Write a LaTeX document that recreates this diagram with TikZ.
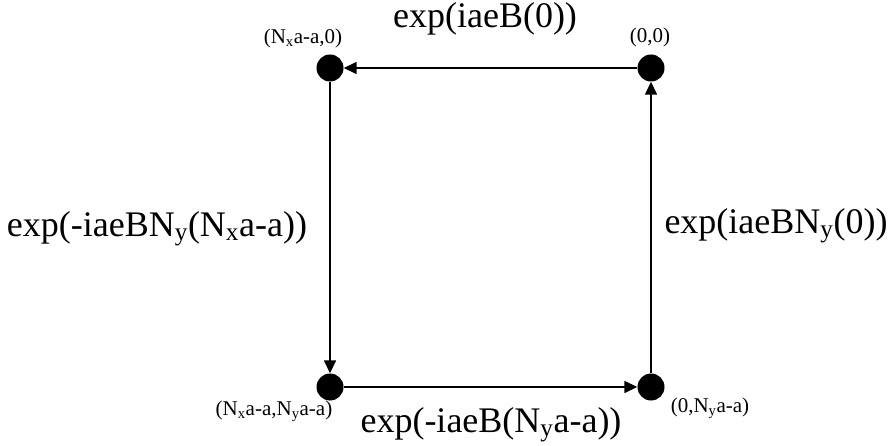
\documentclass[tikz,border=0pt]{standalone}
\usepackage{fontspec}
\setmainfont{Liberation Serif}
\usetikzlibrary{arrows.meta}
\tikzset{
  dot/.style={circle,fill=black,inner sep=0pt,minimum size=27pt},
  big/.style={font=\fontsize{36}{40}\selectfont,inner sep=0pt},
  small/.style={font=\fontsize{21}{24}\selectfont,inner sep=0pt},
  arr/.style={line width=1.5pt,-{Triangle[length=13pt,width=12pt]}}
}
\begin{document}
\begin{tikzpicture}[x=1pt,y=-1pt]
\useasboundingbox (0,0) rectangle (894,446);
\node[dot] (tl) at (330,68) {};
\node[dot] (tr) at (651,68) {};
\node[dot] (bl) at (330,387) {};
\node[dot] (br) at (651,387) {};
\draw[arr] (tr) -- (tl);
\draw[arr] (tl) -- (bl);
\draw[arr] (bl) -- (br);
\draw[arr] (br) -- (tr);
\node[big] (lt) at (485,19) {exp(iaeB(0))};
\node[big] (ll) at (157,229) {exp(-iaeBN\textsubscript{y}(N\textsubscript{x}a-a))};
\node[big] (lr) at (776,226) {exp(iaeBN\textsubscript{y}(0))};
\node[big] (lb) at (491,425) {exp(-iaeB(N\textsubscript{y}a-a))};
\node[small] (ntr) at (650,37) {(0,0)};
\node[small] (ntl) at (303,38) {(N\textsubscript{x}a-a,0)};
\node[small] (nbl) at (274,411) {(N\textsubscript{x}a-a,N\textsubscript{y}a-a)};
\node[small] (nbr) at (710,408) {(0,N\textsubscript{y}a-a)};
\end{tikzpicture}
\end{document}
